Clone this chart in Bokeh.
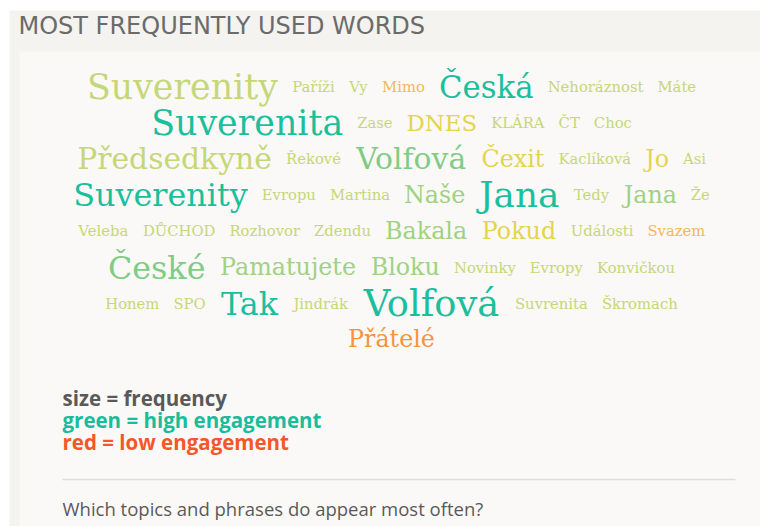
import unicodedata
from bokeh.plotting import figure
from bokeh.models import ColumnDataSource, Range1d, LinearColorMapper
from bokeh.transform import transform
from bokeh.embed import file_html
from bokeh.resources import INLINE
from bokeh.core.properties import value

# ---------------- data ----------------
title_text = "MOST FREQUENTLY USED WORDS"

words = [
    "Suverenity", "Paříži", "Vy", "Mimo", "Česká", "Nehoráznost", "Máte",
    "Suverenita", "Zase", "DNES", "KLÁRA", "ČT", "Choc",
    "Předsedkyně", "Řekové", "Volfová", "Čexit", "Kaclíková", "Jo", "Asi",
    "Suverenity", "Evropu", "Martina", "Naše", "Jana", "Tedy", "Jana", "Že",
    "Veleba", "DŮCHOD", "Rozhovor", "Zdendu", "Bakala", "Pokud", "Události", "Svazem",
    "České", "Pamatujete", "Bloku", "Novinky", "Evropy", "Konvičkou",
    "Honem", "SPO", "Tak", "Jindrák", "Volfová", "Suvrenita", "Škromach",
    "Přátelé",
]
frequency = [
    30, 10, 10, 10, 26, 10, 10,
    30, 10, 18, 10, 10, 10,
    25, 10, 25, 19, 10, 19, 10,
    27, 10, 10, 19, 31, 10, 19, 10,
    10, 10, 10, 10, 19, 19, 10, 10,
    27, 19, 19, 10, 10, 10,
    10, 10, 27, 10, 32, 10, 10,
    19,
]
engagement = [
    0.50, 0.50, 0.50, 0.20, 0.95, 0.50, 0.50,
    0.95, 0.50, 0.35, 0.50, 0.50, 0.50,
    0.50, 0.50, 0.80, 0.35, 0.50, 0.35, 0.50,
    0.95, 0.50, 0.50, 0.65, 0.95, 0.50, 0.65, 0.50,
    0.50, 0.50, 0.50, 0.50, 0.65, 0.35, 0.50, 0.20,
    0.80, 0.65, 0.65, 0.50, 0.50, 0.50,
    0.50, 0.50, 0.95, 0.50, 0.95, 0.50, 0.50,
    0.05,
]
words_per_row = [7, 6, 7, 8, 8, 6, 7, 1]

legend_lines = ["size = frequency", "green = high engagement", "red = low engagement"]
question = "Which topics and phrases do appear most often?"

# ---------------- styles ----------------
palette = ["#f5953d", "#f5b75c", "#e4d44e", "#c6d777", "#9fd281", "#7fcc86", "#1bbf9c"]
legend_colors = ["#595959", "#1abc9c", "#f4572a"]
W, H = 760, 526
CX = 391
FIRST_ROW_Y = 86
ROW_PITCH = 36.1
GAP = 14

WID = {' ': .318, 'a': .596, 'b': .640, 'c': .562, 'd': .640, 'e': .592, 'f': .370, 'g': .640,
       'h': .644, 'i': .320, 'j': .311, 'k': .612, 'l': .320, 'm': .948, 'n': .644, 'o': .602,
       'p': .640, 'q': .640, 'r': .478, 's': .513, 't': .402, 'u': .644, 'v': .565, 'w': .856,
       'x': .564, 'y': .565, 'z': .523, 'A': .722, 'B': .735, 'C': .765, 'D': .802, 'E': .730,
       'F': .686, 'G': .779, 'H': .872, 'I': .403, 'J': .396, 'K': .747, 'L': .667, 'M': 1.025,
       'N': .875, 'O': .820, 'P': .674, 'R': .753, 'S': .687, 'T': .671, 'U': .845, 'V': .722,
       'Z': .687}


def text_width(s, px):
    return sum(WID.get(unicodedata.normalize("NFD", ch)[0], 0.6) for ch in s) * px


def font_px(f):
    return 14.8 + (f - 10) * 1.0


# ---------------- layout of the cloud ----------------
xs, ys, sizes = [], [], []
i = 0
for r, n in enumerate(words_per_row):
    row_words = words[i:i + n]
    row_px = [font_px(f) for f in frequency[i:i + n]]
    widths = [text_width(w, p) for w, p in zip(row_words, row_px)]
    total = sum(widths) + GAP * (n - 1)
    x = CX - total / 2
    for w, p in zip(widths, row_px):
        xs.append(x + w / 2)
        ys.append(FIRST_ROW_Y + r * ROW_PITCH)
        sizes.append(f"{p:.1f}px")
        x += w + GAP
    i += n

src = ColumnDataSource(dict(x=xs, y=ys, word=words, size=sizes,
                            frequency=frequency, engagement=engagement))
mapper = LinearColorMapper(palette=palette, low=0, high=1)

p = figure(width=W, height=H, output_backend="svg", toolbar_location=None,
           x_range=Range1d(0, W), y_range=Range1d(H, 0), min_border=0)
p.axis.visible = False
p.grid.visible = False
p.outline_line_color = None
p.background_fill_color = "white"
p.border_fill_color = "white"

# backgrounds
p.quad(left=[9], right=[W], top=[10], bottom=[H], fill_color="#f4f3f0", line_color=None)
p.quad(left=[19], right=[W], top=[51], bottom=[H], fill_color="#faf9f8", line_color=None)

# title
p.text(x=[18], y=[25], text=[title_text], text_font=value("DejaVu Sans"),
       text_font_size="24px", text_color="#6b6b6b", text_baseline="middle", text_align="left")

# word cloud
p.text(x="x", y="y", text="word", source=src, text_font=value("DejaVu Serif"),
       text_font_size="size", text_color=transform("engagement", mapper),
       text_align="center", text_baseline="alphabetic")

# legend lines
p.text(x=[62, 62, 62], y=[397, 419, 441], text=legend_lines, text_font=value("Open Sans"),
       text_font_style="bold", text_font_size="20.5px", text_color=legend_colors,
       text_baseline="middle", text_align="left")

# divider
p.segment(x0=[62], x1=[735], y0=[479], y1=[479], line_color="#dddddd", line_width=1.5)

# question
p.text(x=[62], y=[508], text=[question], text_font=value("Open Sans"),
       text_font_size="18.5px", text_color="#5a5a5a", text_baseline="middle", text_align="left")

open("out.html", "w").write(file_html(p, INLINE))
